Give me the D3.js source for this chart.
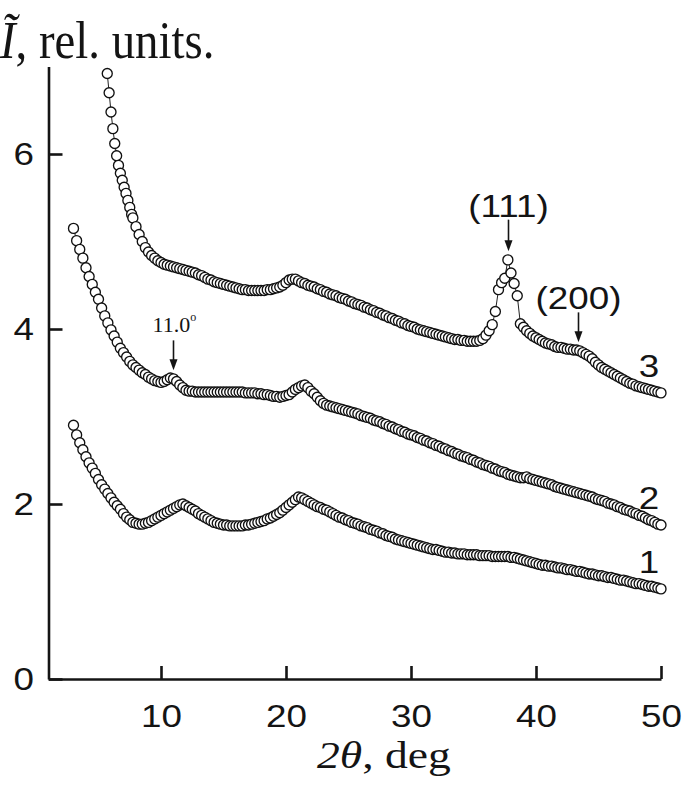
<!DOCTYPE html>
<html>
<head>
<meta charset="utf-8">
<script src="https://cdn.jsdelivr.net/npm/d3@7"></script>
<style>
  html, body { margin: 0; padding: 0; background: #fff; }
  svg { display: block; }
</style>
</head>
<body>
<svg id="chart" width="685" height="788"></svg>
<script>
// ---- data (2θ grid: start + i*step) ----
const step = 0.25;
const start1 = 3.0;
const curve1 = [
2.90,2.79,2.70,2.62,2.54,2.47,2.41,2.35,2.28,2.22,2.17,2.12,2.07,2.02,1.98,1.94,1.89,1.85,1.82,1.79,
1.78,1.77,1.77,1.78,1.79,1.81,1.83,1.85,1.87,1.89,1.91,1.93,1.95,1.97,1.99,2.00,1.98,1.96,1.94,1.92,
1.89,1.87,1.85,1.83,1.81,1.79,1.78,1.77,1.76,1.76,1.75,1.75,1.75,1.75,1.75,1.76,1.76,1.77,1.78,1.79,
1.80,1.81,1.83,1.84,1.86,1.88,1.90,1.93,1.96,1.99,2.02,2.05,2.08,2.07,2.05,2.03,2.01,1.99,1.97,1.96,
1.94,1.93,1.91,1.89,1.87,1.85,1.84,1.82,1.81,1.79,1.78,1.77,1.75,1.74,1.73,1.71,1.70,1.69,1.67,1.66,
1.64,1.63,1.62,1.60,1.59,1.58,1.57,1.56,1.55,1.54,1.53,1.52,1.51,1.50,1.49,1.48,1.48,1.47,1.46,1.45,
1.45,1.44,1.44,1.43,1.43,1.43,1.42,1.42,1.42,1.42,1.41,1.41,1.41,1.41,1.40,1.40,1.40,1.40,1.40,1.40,
1.39,1.39,1.38,1.37,1.36,1.35,1.34,1.33,1.32,1.31,1.30,1.30,1.29,1.29,1.28,1.27,1.27,1.26,1.25,1.25,
1.24,1.23,1.23,1.22,1.21,1.20,1.20,1.19,1.18,1.18,1.17,1.16,1.16,1.15,1.14,1.13,1.13,1.12,1.11,1.10,
1.09,1.09,1.08,1.07,1.06,1.06,1.05,1.04,1.03
];
const start2 = 3.0;
const curve2 = [
5.15,5.01,4.91,4.81,4.70,4.60,4.51,4.42,4.34,4.24,4.15,4.07,3.99,3.92,3.85,3.78,3.73,3.68,3.63,3.59,
3.56,3.53,3.50,3.48,3.45,3.43,3.41,3.40,3.39,3.40,3.42,3.44,3.43,3.40,3.36,3.33,3.30,3.29,3.29,3.28,
3.28,3.28,3.28,3.28,3.28,3.28,3.28,3.28,3.28,3.28,3.28,3.28,3.28,3.28,3.28,3.27,3.27,3.27,3.27,3.26,
3.26,3.25,3.25,3.24,3.23,3.23,3.22,3.23,3.24,3.25,3.28,3.31,3.33,3.35,3.36,3.33,3.29,3.26,3.22,3.18,
3.15,3.13,3.12,3.11,3.10,3.09,3.08,3.07,3.06,3.05,3.04,3.03,3.01,3.00,2.99,2.98,2.96,2.95,2.94,2.92,
2.91,2.89,2.88,2.86,2.85,2.83,2.82,2.80,2.79,2.78,2.76,2.75,2.73,2.72,2.70,2.69,2.67,2.66,2.64,2.63,
2.61,2.60,2.58,2.57,2.55,2.54,2.53,2.51,2.50,2.48,2.47,2.45,2.44,2.43,2.41,2.40,2.38,2.37,2.36,2.34,
2.33,2.32,2.31,2.30,2.30,2.31,2.29,2.28,2.27,2.26,2.25,2.24,2.23,2.22,2.20,2.19,2.18,2.17,2.16,2.15,
2.14,2.13,2.12,2.11,2.10,2.09,2.08,2.06,2.05,2.04,2.03,2.01,2.00,1.99,1.97,1.96,1.94,1.93,1.92,1.90,
1.89,1.87,1.86,1.84,1.82,1.81,1.79,1.77,1.76
];
// curve 3: steep start sampled more finely, then the regular grid
const start3Head = 5.70;
const step3Head = 0.15;
const curve3Head = [6.92,6.70,6.48,6.29,6.12,5.98,5.87,5.78,5.70,5.62,5.55,5.47,5.39,5.31];
const start3 = 7.75;
const curve3 = [
5.27,5.17,5.08,5.00,4.93,4.88,4.84,4.81,4.78,4.76,4.74,4.73,
4.72,4.71,4.70,4.69,4.68,4.67,4.66,4.65,4.64,4.62,4.61,4.59,4.57,4.56,4.54,4.53,4.52,4.51,4.50,4.49,
4.48,4.47,4.46,4.45,4.45,4.44,4.44,4.44,4.44,4.44,4.44,4.45,4.45,4.46,4.47,4.48,4.50,4.53,4.56,4.57,
4.57,4.55,4.53,4.52,4.50,4.49,4.48,4.46,4.45,4.43,4.42,4.40,4.39,4.38,4.36,4.35,4.34,4.32,4.31,4.29,
4.28,4.27,4.25,4.24,4.22,4.21,4.19,4.18,4.16,4.15,4.13,4.12,4.10,4.09,4.07,4.06,4.04,4.03,4.02,4.00,
3.99,3.98,3.97,3.96,3.95,3.94,3.93,3.92,3.91,3.90,3.89,3.88,3.88,3.87,3.87,3.86,3.86,3.86,3.86,3.87,
3.89,3.93,3.98,4.05,4.20,4.45,4.53,4.58,4.79,4.64,4.52,4.38,4.06,4.02,3.98,3.95,3.92,3.90,3.88,3.86,
3.84,3.83,3.82,3.80,3.79,3.79,3.78,3.77,3.77,3.76,3.76,3.75,3.73,3.71,3.69,3.66,3.62,3.59,3.56,3.54,
3.52,3.50,3.48,3.46,3.44,3.42,3.40,3.38,3.37,3.35,3.34,3.33,3.32,3.31,3.30,3.29,3.28,3.27
];
const curveLabels = ["1", "2", "3"];
const xTicks = [10, 20, 30, 40, 50];
const yTicks = [0, 2, 4, 6];

// annotations: label, 2θ position, arrow top value, arrow tip value
const peakNotes = [
  {label: "(111)", at: 37.8, top: 5.25, tip: 4.89},
  {label: "(200)", at: 43.4, top: 4.19, tip: 3.85}
];
const note11 = {label: "11.0", at: 11.0, top: 3.87, tip: 3.53};

// ---- build ----
const svg = d3.select("#chart");
const x = d3.scaleLinear().domain([1, 50]).range([48.5, 661]);
const y = d3.scaleLinear().domain([0, 7]).range([679, 66.5]);

const toPts = (start, st, values) => values.map((v, i) => ({t: start + i * st, v}));
const series = [
  {label: curveLabels[0], pts: toPts(start1, step, curve1)},
  {label: curveLabels[1], pts: toPts(start2, step, curve2)},
  {label: curveLabels[2], pts: toPts(start3Head, step3Head, curve3Head).concat(toPts(start3, step, curve3))}
];

const sans = "'Liberation Sans', Arial, sans-serif";
const serif = "'Liberation Serif', 'Times New Roman', serif";
const ink = "#141414";
const SX = 1.15; // horizontal stretch of the sans labels in the figure

function label(px, py, str, size, anchor, sx, family) {
  return svg.append("text")
    .attr("transform", `translate(${px},${py}) scale(${sx},1)`)
    .attr("text-anchor", anchor)
    .style("font-family", family).style("font-size", size + "px")
    .attr("fill", ink).text(str);
}

// axes
const gx = svg.append("g").attr("transform", "translate(0,679)")
  .call(d3.axisBottom(x).tickValues(xTicks).tickSizeInner(-13).tickSizeOuter(0).tickPadding(25.3).tickFormat(d3.format("d")));
const gy = svg.append("g").attr("transform", "translate(48.5,0)")
  .call(d3.axisLeft(y).tickValues(yTicks).tickSizeInner(-14).tickSizeOuter(0).tickPadding(14.5).tickFormat(d3.format("d")));
[gx, gy].forEach(g => {
  g.select(".domain").attr("stroke", ink).attr("stroke-width", 2.6);
  g.selectAll(".tick line").attr("stroke", ink).attr("stroke-width", 2.6);
  g.selectAll(".tick text").attr("fill", ink).style("font-family", sans).style("font-size", "32px")
    .attr("transform", `scale(${SX},1)`);
});
gy.selectAll(".tick text").attr("x", -14.5 / SX);

// curves
const line = d3.line().x(d => x(d.t)).y(d => y(d.v));
series.forEach(s => {
  const g = svg.append("g");
  g.append("path").attr("d", line(s.pts)).attr("fill", "none").attr("stroke", "#222").attr("stroke-width", 1);
  g.selectAll("circle").data(s.pts).join("circle")
    .attr("cx", d => x(d.t)).attr("cy", d => y(d.v)).attr("r", 5)
    .attr("fill", "#fff").attr("stroke", "#111").attr("stroke-width", 1.35);
  const last = s.pts[s.pts.length - 1];
  label(x(last.t) - 12, y(last.v) - 16, s.label, 32, "middle", SX, sans);
});

// arrows
function arrow(at, top, tip) {
  const px = x(at), y0 = y(top), y1 = y(tip);
  svg.append("line").attr("x1", px).attr("x2", px).attr("y1", y0).attr("y2", y1 - 8)
    .attr("stroke", ink).attr("stroke-width", 1.6);
  svg.append("path").attr("d", `M${px - 4},${y1 - 11}L${px + 4},${y1 - 11}L${px},${y1}Z`).attr("fill", ink);
}
peakNotes.forEach(n => {
  arrow(n.at, n.top, n.tip);
  label(x(n.at), y(n.top) - 3, n.label, 32, "middle", SX, sans);
});
arrow(note11.at, note11.top, note11.tip);
const t11 = svg.append("text").attr("x", x(note11.at) - 21).attr("y", y(note11.top) - 8)
  .style("font-family", serif).style("font-size", "22px").attr("fill", ink);
t11.append("tspan").text(note11.label);
t11.append("tspan").attr("dy", -11).style("font-size", "12px").text("o");

// axis titles
const yt = svg.append("text").attr("transform", "translate(0,58) scale(0.9,1)")
  .style("font-family", serif).style("font-size", "52px").attr("fill", ink);
yt.append("tspan").style("font-style", "italic").text("Ĩ");
yt.append("tspan").text(", rel. units.");

const xt = svg.append("text").attr("transform", "translate(317,768) scale(1.2,1)")
  .style("font-family", serif).style("font-size", "38px").attr("fill", ink);
xt.append("tspan").style("font-style", "italic").text("2θ");
xt.append("tspan").text(", deg");
</script>
</body>
</html>
